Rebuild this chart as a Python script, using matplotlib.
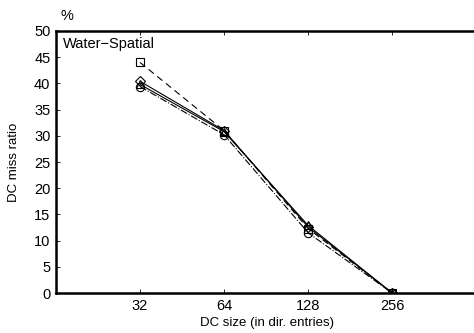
import matplotlib
matplotlib.use('Agg')
import matplotlib.pyplot as plt

# data
sizes = ['32', '64', '128', '256']
sq_vals = [44.0, 31.0, 12.3, 0.0]     # dashed, squares
dia_vals = [40.4, 31.0, 12.6, 0.0]    # solid, diamonds
tri_vals = [39.8, 30.8, 12.9, 0.0]    # solid, triangles
circ_vals = [39.4, 30.2, 11.5, 0.0]   # dash-dot, circles

plt.rcParams['font.family'] = ['Liberation Sans', 'DejaVu Sans']
plt.rcParams['font.size'] = 9

fig = plt.figure(figsize=(4.74, 3.33), dpi=100)
ax = fig.add_axes([0.118, 0.12, 0.892, 0.787])

x = [1, 2, 3, 4]
ms = 6
ax.plot(x, sq_vals, 'k--', lw=0.8, marker='s', ms=ms, mfc='none', mew=0.8, dashes=(6, 4))
ax.plot(x, tri_vals, 'k-', lw=0.8, marker='^', ms=ms, mfc='none', mew=0.8)
ax.plot(x, dia_vals, 'k-', lw=0.8, marker='D', ms=ms - 1, mfc='none', mew=0.8)
ax.plot(x, circ_vals, 'k-.', lw=0.8, marker='o', ms=ms, mfc='none', mew=0.8)

ax.set_xlim(0, 5.03)
ax.set_ylim(0, 50)
ax.set_xticks(x)
ax.set_xticklabels(sizes)
ax.set_yticks(range(0, 51, 5))
ax.tick_params(direction='in', top=True, right=True, length=3, width=0.6, labelsize=10.5, pad=4)
for s in ['left', 'bottom', 'top']:
    ax.spines[s].set_linewidth(1.8)
ax.spines['right'].set_linewidth(0.8)

ax.set_xlabel('DC size (in dir. entries)', fontsize=9.5, labelpad=3)
ax.set_ylabel('DC miss ratio', fontsize=9.5, labelpad=10)
ax.text(0.08, 47.6, 'Water\u2212Spatial', fontsize=10.5, va='center')
fig.text(0.128, 0.952, '%', fontsize=10.5, va='center')

fig.savefig('out.png', dpi=100)
